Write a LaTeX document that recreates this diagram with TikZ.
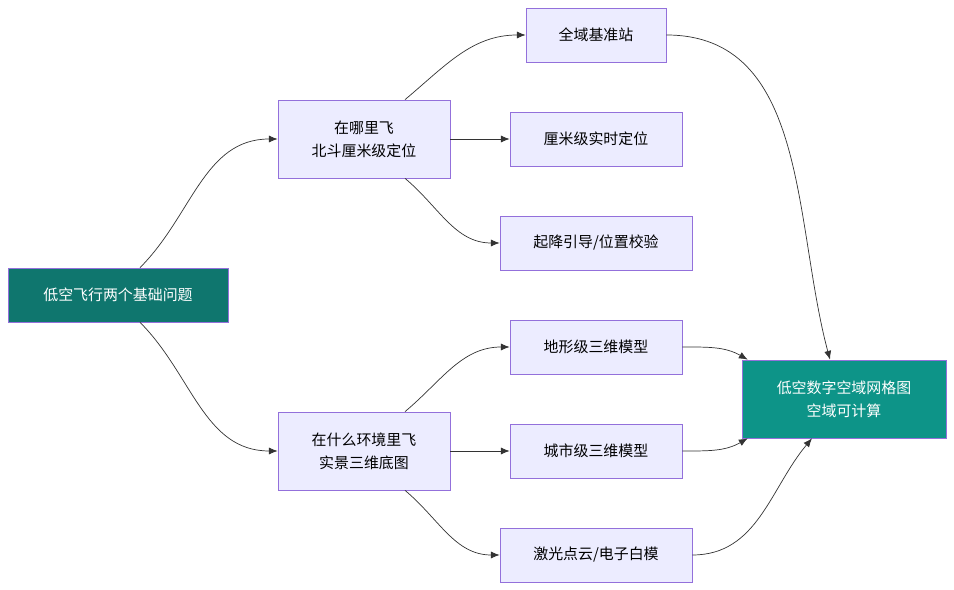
\documentclass[tikz,border=0pt]{standalone}
\usepackage{fontspec}
\setmainfont{Noto Sans CJK SC}
\definecolor{box_fill}{HTML}{ECECFF}
\definecolor{box_draw}{HTML}{9370DB}
\definecolor{root_fill}{HTML}{0F766E}
\definecolor{goal_fill}{HTML}{0D9488}
\definecolor{line_col}{HTML}{333333}
\usetikzlibrary{arrows.meta, positioning, calc}

\begin{document}
\begin{tikzpicture}[x=0.02cm, y=-0.02cm, font=\fontsize{8.5}{13}\selectfont,
        nd/.style={draw=box_draw, fill=box_fill, minimum height=1.08cm,
                   align=center, inner sep=0pt},
        arr/.style={-{Latex[length=5pt,width=4pt]}, line_col, thin}]
        \useasboundingbox (0,0) rectangle (954,590);
        % Racine et cible
        \node[nd, fill=root_fill, draw=box_draw, text=white, minimum width=4.4cm]
          (root) at (118,295) {低空飞行两个基础问题};
        \node[nd, fill=goal_fill, draw=box_draw, text=white, minimum width=4.08cm,
              minimum height=1.56cm] (goal) at (844,399) {低空数字空域网格图\\空域可计算};
        % Questions
        \node[nd, minimum width=3.44cm, minimum height=1.56cm] (where) at (364,139)
          {在哪里飞\\北斗厘米级定位};
        \node[nd, minimum width=3.44cm, minimum height=1.56cm] (env) at (364,451)
          {在什么环境里飞\\实景三维底图};
        % Feuilles
        \node[nd, minimum width=2.8cm] (station) at (596,35) {全域基准站};
        \node[nd, minimum width=3.44cm] (rtk) at (596,139) {厘米级实时定位};
        \node[nd, minimum width=3.84cm] (guide) at (596,243) {起降引导/位置校验};
        \node[nd, minimum width=3.44cm] (terrain) at (596,347) {地形级三维模型};
        \node[nd, minimum width=3.44cm] (city) at (596,451) {城市级三维模型};
        \node[nd, minimum width=3.84cm] (lidar) at (596,555) {激光点云/电子白模};
        % Flèches
        \draw[arr] ([xshift=0.44cm]root.north) to[out=45, in=180] (where.west);
        \draw[arr] ([xshift=0.44cm]root.south) to[out=-45, in=180] (env.west);
        \draw[arr] ([xshift=0.82cm]where.north) to[out=40, in=180] (station.west);
        \draw[arr] (where.east) -- (rtk.west);
        \draw[arr] ([xshift=0.82cm]where.south) to[out=-40, in=180] (guide.west);
        \draw[arr] ([xshift=0.82cm]env.north) to[out=40, in=180] (terrain.west);
        \draw[arr] (env.east) -- (city.west);
        \draw[arr] ([xshift=0.82cm]env.south) to[out=-40, in=180] (lidar.west);
        \draw[arr] (station.east) to[out=0, in=105] ([xshift=-0.28cm]goal.north);
        \draw[arr] (terrain.east) to[out=0, in=150] ([xshift=0.12cm]goal.north west);
        \draw[arr] (city.east) to[out=0, in=-150] ([xshift=0.12cm]goal.south west);
        \draw[arr] (lidar.east) to[out=0, in=-130] ([xshift=-0.64cm]goal.south);
\end{tikzpicture}
\end{document}
